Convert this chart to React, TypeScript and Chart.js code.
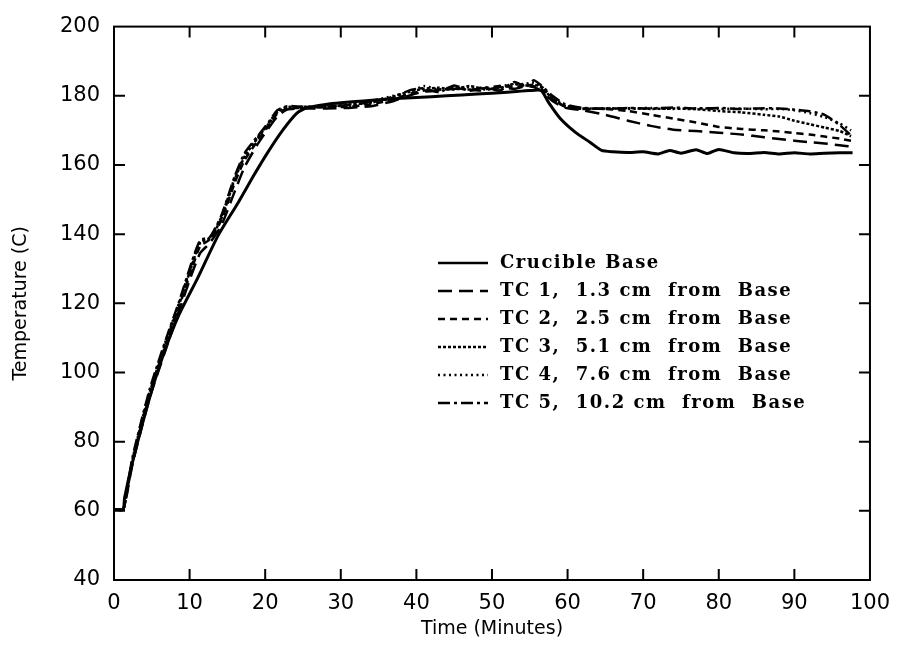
import React, { useEffect, useRef } from "react";
import { Chart, registerables } from "chart.js";
Chart.register(...registerables);

// ---- data ----
const xLabel = "Time (Minutes)";
const yLabel = "Temperature (C)";

const baseTime = [0, 1.2, 1.4, 2.5, 4.7, 6.5, 8.6, 11, 13.8, 16.4, 18.5, 20.3, 22.3, 24.2, 25.5, 28, 30, 33, 36, 40, 44, 48, 52, 55, 56.5, 57.5, 59, 61, 63, 64.5, 66, 68, 70, 72, 73.5, 75, 77, 78.5, 80, 82, 84, 86, 88, 90, 92, 94, 96, 97.7];
const baseTemp = [60.4, 60.4, 63.8, 74.5, 92.6, 105, 116.7, 127, 139.7, 149, 157, 163.5, 170, 175, 176.5, 177.5, 178, 178.5, 179, 179.5, 180, 180.5, 181, 181.5, 181.5, 178, 173.5, 169.5, 166.5, 164.2, 163.8, 163.6, 163.8, 163.2, 164.2, 163.4, 164.4, 163.3, 164.5, 163.5, 163.3, 163.6, 163.2, 163.5, 163.2, 163.4, 163.5, 163.5];

const tcTime = [0, 1.2, 1.6, 2.5, 4.7, 6.9, 8.6, 10.3, 11.4, 12.7, 14.2, 16, 17.3, 19, 20.5, 21.6, 22.9, 25, 28, 31, 34, 37, 39, 41, 43, 45, 47, 49, 51, 53, 54.5, 55.5, 56.5, 58, 59.7, 62, 65, 68, 71, 74, 77, 80, 83, 86, 88, 90, 92, 94, 96, 97.5];
const tc1Temp = [60.4, 60.4, 63.5, 74, 92.5, 107, 117.8, 128.5, 134.5, 137.5, 142.5, 152.5, 159.5, 166, 170.8, 174, 176, 176.3, 176.3, 176.5, 177, 178.5, 180, 181.2, 181.5, 182, 181.8, 181.5, 182.5, 182, 182.8, 182.5, 181.5, 178.5, 176.5, 175.8, 174.5, 172.8, 171.3, 170.2, 169.8, 169.3, 168.8, 168, 167.5, 167, 166.6, 166.2, 165.7, 165.3];
const tc2Temp = [60.4, 60.4, 64, 74.5, 93.5, 108.5, 119, 130, 136.5, 138.5, 144, 155, 161.5, 167, 171.5, 174.8, 176.3, 176.5, 176.7, 176.8, 177.5, 179, 180.5, 181.5, 181.8, 182.5, 181.5, 182.2, 182.8, 182.5, 183.2, 182.8, 182, 179, 176.8, 176.3, 176.2, 175.6, 174.5, 173.4, 172.3, 171, 170.4, 170, 169.7, 169.2, 168.8, 168.2, 167.6, 167];
const tc3Temp = [60.4, 60.4, 64.5, 75, 94, 109, 119.5, 131, 137.5, 138.8, 144.5, 156, 162.5, 167.8, 172, 175.2, 176.6, 176.8, 176.8, 177.5, 178, 179.8, 181.2, 182, 182.3, 181.8, 182.8, 182, 182.2, 183.5, 183, 183.2, 182.5, 179.2, 177, 176.2, 176.3, 176.4, 176.2, 176.3, 176.1, 175.6, 175.2, 174.5, 174, 172.8, 171.8, 170.8, 169.8, 168.3];
const tc4Temp = [60.4, 60.4, 64.8, 75.5, 94.5, 109.5, 120, 131.5, 138, 139, 145, 156.5, 163, 168, 172.2, 175.5, 176.8, 176.5, 177.2, 177, 178.5, 180, 181, 182.8, 181.8, 182.2, 182.5, 181.8, 182.8, 183.2, 183.5, 183.8, 182.8, 179.5, 177.2, 176.3, 176.4, 176.2, 176.5, 176.2, 176.4, 176.2, 176.3, 176.1, 176.2, 175.8, 175, 173.8, 172, 170];
const tc5Temp = [60.4, 60.4, 65, 76, 95, 109.8, 120.4, 132, 138.2, 139.2, 145.4, 156.9, 163.5, 168.3, 172.5, 175.8, 177, 176.8, 177, 177.3, 178.2, 179.5, 181.5, 182.2, 181, 183, 181.5, 182.5, 181.5, 184, 182.5, 184.5, 183, 180, 177.5, 176.5, 176.2, 176.5, 176.3, 176.6, 176.3, 176.5, 176.2, 176.4, 176.3, 176, 175.5, 174.5, 171.5, 168.5];

const seriesLabels = [
  "Crucible Base",
  "TC 1,  1.3 cm  from  Base",
  "TC 2,  2.5 cm  from  Base",
  "TC 3,  5.1 cm  from  Base",
  "TC 4,  7.6 cm  from  Base",
  "TC 5,  10.2 cm  from  Base",
];
const seriesDashes: number[][] = [[], [14, 7], [7, 5], [3, 2], [2, 3.5], [12, 4, 3, 4]];

const xMin = 0, xMax = 100, xStep = 10;
const yMin = 40, yMax = 200, yStep = 20;

function pts(t: number[], v: number[]) {
  return t.map((x, i) => ({ x, y: v[i] }));
}

const framePlugin = {
  id: "frameTicks",
  afterDraw(chart: any) {
    const { ctx, chartArea: a, scales } = chart;
    const xs = scales.x, ys = scales.y;
    ctx.save();
    ctx.strokeStyle = "#000";
    ctx.lineWidth = 2;
    ctx.setLineDash([]);
    ctx.strokeRect(a.left, a.top, a.right - a.left, a.bottom - a.top);
    const L = 11;
    ctx.beginPath();
    xs.ticks.forEach((t: any) => {
      if (t.value <= xMin || t.value >= xMax) return;
      const px = xs.getPixelForValue(t.value);
      ctx.moveTo(px, a.bottom); ctx.lineTo(px, a.bottom - L);
      ctx.moveTo(px, a.top); ctx.lineTo(px, a.top + L);
    });
    ys.ticks.forEach((t: any) => {
      if (t.value <= yMin || t.value >= yMax) return;
      const py = ys.getPixelForValue(t.value);
      ctx.moveTo(a.left, py); ctx.lineTo(a.left + L, py);
      ctx.moveTo(a.right, py); ctx.lineTo(a.right - L, py);
    });
    ctx.stroke();

    // legend
    const lx0 = 438, lx1 = 488, tx = 500, ty0 = 263, dy = 28;
    ctx.font = "bold 18px 'DejaVu Serif'";
    (ctx as any).letterSpacing = "1.5px";
    ctx.textBaseline = "middle";
    ctx.fillStyle = "#000";
    chart.data.datasets.forEach((ds: any, i: number) => {
      const y = ty0 + dy * i;
      ctx.beginPath();
      ctx.lineWidth = 2.5;
      ctx.setLineDash(ds.borderDash || []);
      ctx.moveTo(lx0, y); ctx.lineTo(lx1, y);
      ctx.stroke();
      ctx.setLineDash([]);
      ctx.fillText(ds.label, tx, y);
    });
    ctx.restore();
  },
};

export default function App() {
  const ref = useRef<HTMLCanvasElement>(null);
  useEffect(() => {
    if (!ref.current) return;
    const sets = [
      pts(baseTime, baseTemp),
      pts(tcTime, tc1Temp),
      pts(tcTime, tc2Temp),
      pts(tcTime, tc3Temp),
      pts(tcTime, tc4Temp),
      pts(tcTime, tc5Temp),
    ];
    const chart = new Chart(ref.current, {
      type: "line",
      data: {
        datasets: sets.map((d, i) => ({
          label: seriesLabels[i],
          data: d,
          borderColor: "#000",
          backgroundColor: "#000",
          borderWidth: i === 0 ? 3 : 2.5,
          borderDash: seriesDashes[i],
          pointRadius: 0,
          tension: 0.2,
          fill: false,
        })),
      },
      options: {
        animation: false,
        responsive: false,
        layout: { padding: { left: 0, right: 20, top: 23, bottom: 0 } },
        plugins: { legend: { display: false }, tooltip: { enabled: false } },
        scales: {
          x: {
            type: "linear",
            min: xMin,
            max: xMax,
            grid: { display: false, drawTicks: false },
            border: { display: false },
            ticks: { stepSize: xStep, color: "#000", padding: 11, maxRotation: 0, font: { family: "'DejaVu Sans'", size: 21 } },
            title: { display: true, text: xLabel, color: "#000", font: { family: "'DejaVu Sans'", size: 19 }, padding: { top: 0, bottom: 21 } },
            afterFit: (s: any) => { s.height = 81; },
          },
          y: {
            type: "linear",
            min: yMin,
            max: yMax,
            grid: { display: false, drawTicks: false },
            border: { display: false },
            ticks: { stepSize: yStep, color: "#000", padding: 14, font: { family: "'DejaVu Sans'", size: 21 } },
            title: { display: true, text: yLabel, color: "#000", font: { family: "'DejaVu Sans'", size: 19 }, padding: { top: 10, bottom: 0 } },
            afterFit: (s: any) => { s.width = 114; },
          },
        },
      },
      plugins: [framePlugin],
    });
    return () => chart.destroy();
  }, []);
  return (
    <div style={{ position: "fixed", left: 0, top: 0, width: 901, height: 661, background: "#fff" }}>
      <canvas ref={ref} width={901} height={661} />
    </div>
  );
}
